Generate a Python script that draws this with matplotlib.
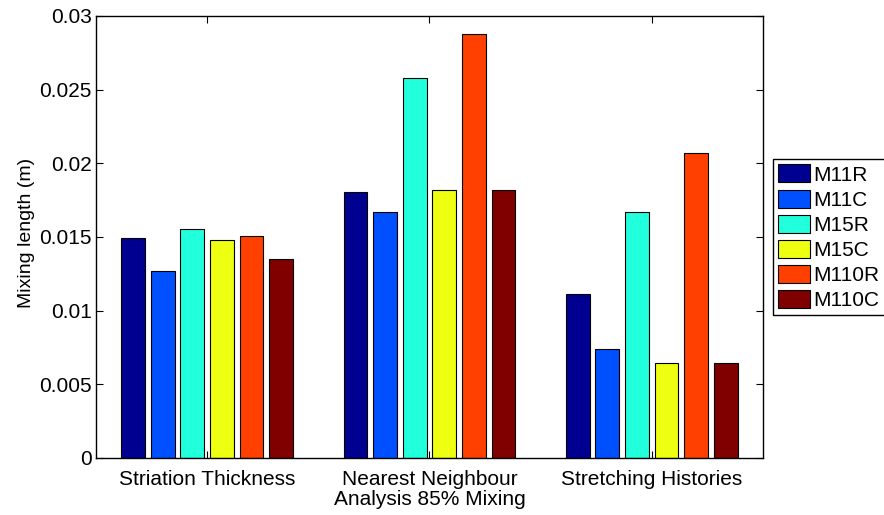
import numpy as np
import matplotlib
matplotlib.use('Agg')
import matplotlib.pyplot as plt

plt.rcParams['font.family'] = ['Liberation Sans', 'DejaVu Sans']

# mixing length per method (rows) and mixer configuration (columns)
methods = ['Striation Thickness', 'Nearest Neighbour\nAnalysis 85% Mixing', 'Stretching Histories']
mixers = ['M11R', 'M11C', 'M15R', 'M15C', 'M110R', 'M110C']
m11r = [0.01493, 0.01808, 0.01111]
m11c = [0.01267, 0.01670, 0.00740]
m15r = [0.01556, 0.02578, 0.01670]
m15c = [0.01482, 0.01817, 0.00647]
m110r = [0.01509, 0.02878, 0.02068]
m110c = [0.01353, 0.01817, 0.00643]
colors = ['#000090', '#0050FF', '#22FFDD', '#EEFF11', '#FF4000', '#800000']

series = [m11r, m11c, m15r, m15c, m110r, m110c]

fig = plt.figure(figsize=(8.84, 5.15), dpi=100)
ax = fig.add_axes([0.1086, 0.1107, 0.7545, 0.8583])

x = np.arange(1, len(methods) + 1)
step = 0.8 / len(series)
for i, (vals, name, col) in enumerate(zip(series, mixers, colors)):
    offs = (i - (len(series) - 1) / 2) * step
    ax.bar(x + offs, vals, width=step * 0.8, color=col, edgecolor='black',
           linewidth=0.8, label=name)

ax.set_xlim(0.5, 3.5)
ax.set_ylim(0, 0.03)
ax.set_yticks(np.arange(0, 0.0301, 0.005))
ax.set_yticklabels(['0', '0.005', '0.01', '0.015', '0.02', '0.025', '0.03'])
ax.set_xticks(x)
ax.set_xticklabels(methods, linespacing=1.05)
ax.tick_params(direction='in', length=5, width=0.8, top=True, right=True)
ax.tick_params(axis='y', labelsize=15, pad=3)
ax.tick_params(axis='x', labelsize=15, pad=9)
for s in ax.spines.values():
    s.set_linewidth(1.0)
ax.set_ylabel('Mixing length (m)', fontsize=14, labelpad=4)
ax.yaxis.set_label_coords(-0.092, 0.51)

leg = ax.legend(loc='upper left', bbox_to_anchor=(1.015, 0.676), borderaxespad=0,
                fontsize=15, fancybox=False, edgecolor='black', framealpha=1,
                handlelength=1.55, handleheight=0.95, handletextpad=0.15,
                labelspacing=0.24, borderpad=0.25)
leg.get_frame().set_linewidth(1.0)

fig.savefig('out.png', dpi=100)
